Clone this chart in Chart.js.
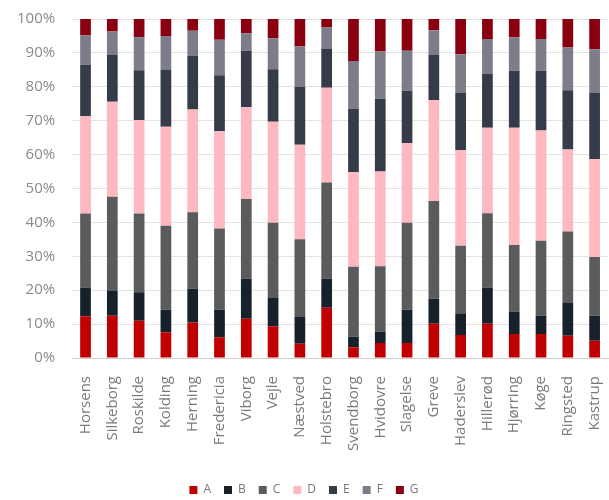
<!DOCTYPE html>
<html>
<head>
<meta charset="utf-8">
<script src="https://cdn.jsdelivr.net/npm/chart.js@4"></script>
<style>
  html, body { margin: 0; padding: 0; background: #fff; }
  #wrap { width: 609px; height: 500px; }
</style>
</head>
<body>
<div id="wrap"><canvas id="chart" width="609" height="500"></canvas></div>
<script>
// ==================== DATOS ====================
const byer = ['Horsens', 'Silkeborg', 'Roskilde', 'Kolding', 'Herning', 'Fredericia', 'Viborg', 'Vejle', 'Næstved', 'Holstebro',
    'Svendborg', 'Hvidovre', 'Slagelse', 'Greve', 'Haderslev', 'Hillerød', 'Hjørring', 'Køge', 'Ringsted', 'Kastrup'];

const serieA = [12.3, 12.5, 11.0, 7.6, 10.5, 6.1, 11.6, 9.4, 4.2, 14.8, 3.2, 4.4, 4.4, 10.1, 6.8, 10.1, 7.1, 7.1, 6.6, 5.1];
const serieB = [8.5, 7.3, 8.4, 6.6, 9.9, 8.1, 11.8, 8.3, 7.9, 8.6, 3.1, 3.4, 9.8, 7.4, 6.2, 10.7, 6.6, 5.4, 9.6, 7.4];
const serieC = [21.8, 27.8, 23.2, 24.8, 22.6, 24.0, 23.5, 22.2, 22.9, 28.4, 20.6, 19.3, 25.7, 28.8, 20.1, 21.9, 19.6, 22.1, 21.1, 17.3];
const serieD = [28.7, 28.0, 27.6, 29.2, 30.3, 28.7, 27.1, 29.8, 27.9, 27.9, 27.9, 27.9, 23.5, 29.8, 28.2, 25.2, 34.6, 32.5, 24.2, 28.9];
const serieE = [15.2, 13.8, 14.7, 16.9, 15.8, 16.5, 16.6, 15.5, 17.1, 11.6, 18.7, 21.5, 15.4, 13.3, 17.0, 15.9, 16.8, 17.6, 17.5, 19.6];
const serieF = [8.6, 6.9, 9.7, 9.9, 7.4, 10.5, 5.2, 9.1, 11.9, 6.2, 14.1, 13.9, 11.8, 7.3, 11.3, 10.3, 9.9, 9.4, 12.6, 12.8];
const serieG = [4.9, 3.7, 5.4, 5.0, 3.5, 6.1, 4.2, 5.7, 8.1, 2.5, 12.4, 9.6, 9.4, 3.3, 10.4, 5.9, 5.4, 5.9, 8.4, 8.9];

const yTicks = [0, 10, 20, 30, 40, 50, 60, 70, 80, 90, 100];

const series = [
    { label: 'A', data: serieA, color: '#c00000' },
    { label: 'B', data: serieB, color: '#18202c' },
    { label: 'C', data: serieC, color: '#5a5b5d' },
    { label: 'D', data: serieD, color: '#ffb7c0' },
    { label: 'E', data: serieE, color: '#363b4a' },
    { label: 'F', data: serieF, color: '#7c7d88' },
    { label: 'G', data: serieG, color: '#8b0010' }
];

// ==================== GRÁFICO ====================
const ctx = document.getElementById('chart').getContext('2d');
new Chart(ctx, {
    type: 'bar',
    data: {
        labels: byer,
        datasets: series.map(s => ({
            label: s.label,
            data: s.data,
            backgroundColor: s.color,
            borderWidth: 0,
            barPercentage: 0.4,
            categoryPercentage: 1
        }))
    },
    options: {
        responsive: false,
        animation: false,
        layout: { padding: { top: 19, right: 1, left: 0, bottom: -6 } },
        plugins: {
            legend: {
                position: 'bottom',
                labels: {
                    boxWidth: 8,
                    boxHeight: 8,
                    padding: 13,
                    color: '#777',
                    font: { family: 'Open Sans', size: 12 }
                }
            },
            tooltip: { enabled: false }
        },
        scales: {
            x: {
                stacked: true,
                grid: { display: false, drawTicks: false },
                border: { display: true, color: '#d0d0d0' },
                ticks: {
                    autoSkip: false,
                    maxRotation: 90,
                    minRotation: 90,
                    padding: 18,
                    color: '#7a7a7a',
                    font: { family: 'Open Sans', size: 15 }
                },
                afterFit: scale => {
                    scale.height += 2;
                    scale.paddingLeft = 0;
                    scale.paddingRight = 0;
                }
            },
            y: {
                stacked: true,
                min: 0,
                max: 100,
                afterBuildTicks: axis => { axis.ticks = yTicks.map(v => ({ value: v })); },
                afterFit: scale => {
                    scale.paddingTop = 0;
                    scale.paddingBottom = 0;
                },
                grid: { color: '#e3e3e3', drawTicks: false },
                border: { display: false },
                ticks: {
                    padding: 17,
                    color: '#8a8a8a',
                    font: { family: 'Open Sans', size: 15 },
                    callback: v => v + '%'
                }
            }
        }
    }
});
</script>
</body>
</html>
